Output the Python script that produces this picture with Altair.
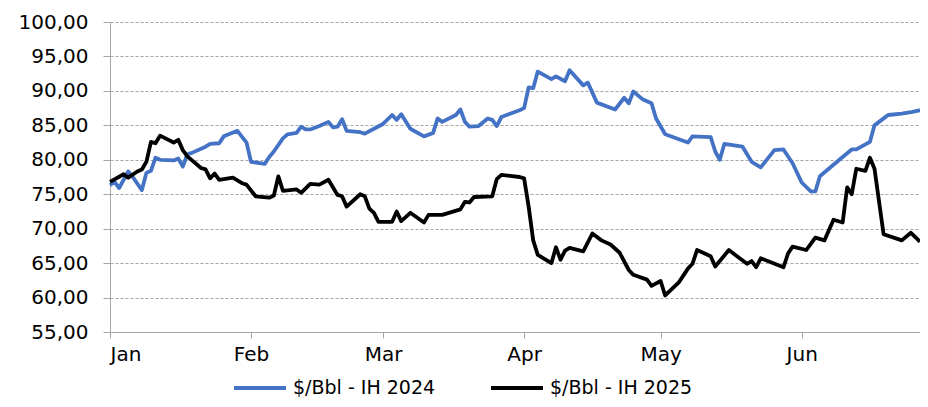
import altair as alt
import pandas as pd

# Day offsets from 1 January (shared Jan–Jun axis), values in $/Bbl
series_names = ["$/Bbl - IH 2024", "$/Bbl - IH 2025"]
series_colors = ["#4472C4", "#000000"]

days_2024 = [0, 1, 2, 4, 5, 7, 8, 9, 10, 11, 14, 15, 16, 17, 18, 21, 22, 24, 25, 28,
             30, 31, 34, 35, 36, 38, 39, 41, 42, 43, 44, 46, 48, 49, 50, 51, 52, 55, 56, 58,
             60, 62, 63, 64, 66, 69, 71, 72, 73, 76, 77, 78, 79, 81, 83, 84, 85, 86, 90, 91,
             92, 93, 94, 97, 98, 100, 101, 104, 105, 107, 111, 113, 114, 115, 117, 119, 120, 122, 127, 128,
             132, 133, 134, 135, 139, 141, 143, 146, 148, 150, 152, 154, 155, 156, 161, 163, 164, 167, 168, 169,
             171, 174, 176, 178]
price_2024 = [76.3, 76.8, 75.9, 78.3, 77.5, 75.6, 78.1, 78.4, 80.3, 80.0, 79.9, 80.2, 79.0, 80.8, 81.0, 81.9, 82.3, 82.4, 83.4, 84.2,
              82.5, 79.7, 79.4, 80.4, 81.2, 83.1, 83.7, 83.9, 84.8, 84.4, 84.4, 84.9, 85.5, 84.7, 84.8, 85.9, 84.2, 84.0, 83.8, 84.5,
              85.2, 86.5, 85.8, 86.6, 84.5, 83.4, 83.9, 86.0, 85.5, 86.5, 87.3, 85.5, 84.8, 84.9, 86.0, 85.8, 84.9, 86.2, 87.2, 87.5,
              90.5, 90.4, 92.8, 91.7, 92.1, 91.4, 93.0, 90.8, 91.2, 88.3, 87.3, 89.0, 88.2, 89.9, 88.8, 88.2, 86.0, 83.7, 82.5, 83.4,
              83.3, 81.2, 80.0, 82.3, 81.9, 79.7, 78.9, 81.4, 81.5, 79.5, 76.7, 75.4, 75.4, 77.6, 80.4, 81.5, 81.5, 82.6, 85.0, 85.5,
              86.5, 86.7, 86.9, 87.2]

days_2025 = [0, 3, 4, 6, 7, 8, 9, 10, 11, 14, 15, 16, 17, 20, 21, 22, 23, 24, 27, 29,
             30, 32, 35, 36, 37, 38, 41, 42, 44, 46, 48, 50, 51, 52, 55, 56, 57, 58, 59, 62,
             63, 64, 66, 69, 70, 73, 77, 78, 79, 80, 84, 85, 86, 90, 91, 92, 93, 94, 97, 98,
             99, 100, 101, 104, 106, 108, 110, 112, 114, 115, 118, 119, 121, 122, 125, 127, 128, 129, 132, 133,
             136, 138, 140, 141, 142, 143, 148, 149, 150, 153, 155, 157, 159, 161, 162, 163, 164, 166, 167, 168,
             170, 174, 176, 178]
price_2025 = [76.8, 77.9, 77.4, 78.3, 78.6, 79.7, 82.6, 82.4, 83.5, 82.5, 82.9, 81.4, 80.5, 78.8, 78.6, 77.3, 78.0, 77.1, 77.4, 76.6,
              76.4, 74.7, 74.5, 74.8, 77.6, 75.5, 75.7, 75.2, 76.5, 76.4, 77.1, 74.9, 74.7, 73.2, 75.0, 74.7, 72.9, 72.3, 71.0, 71.0,
              72.5, 71.1, 72.3, 70.9, 72.0, 72.0, 72.8, 73.9, 73.8, 74.6, 74.7, 77.2, 77.8, 77.5, 77.3, 73.2, 68.3, 66.2, 65.0, 67.3,
              65.5, 66.8, 67.2, 66.7, 69.3, 68.3, 67.7, 66.5, 64.0, 63.3, 62.6, 61.7, 62.4, 60.3, 62.2, 64.2, 64.9, 66.9, 66.0, 64.5,
              66.9, 65.9, 64.9, 65.3, 64.4, 65.7, 64.4, 66.4, 67.4, 66.9, 68.7, 68.3, 71.3, 70.9, 76.0, 75.0, 78.7, 78.4, 80.3, 78.7,
              69.2, 68.3, 69.4, 68.1]

y_ticks = [55, 60, 65, 70, 75, 80, 85, 90, 95, 100]
month_ticks = [1, 2, 3, 4, 5, 6]

start = pd.Timestamp("2024-01-01")
rows = []
for name, days, vals in [(series_names[0], days_2024, price_2024),
                         (series_names[1], days_2025, price_2025)]:
    for d, v in zip(days, vals):
        rows.append({"date": (start + pd.Timedelta(days=d)).strftime("%Y-%m-%d"),
                     "price": v, "series": name})
df = pd.DataFrame(rows)

FONT = "DejaVu Sans"
AXIS_GRAY = "#a6a6a6"
FS = 20

chart = alt.Chart(df).mark_line(strokeWidth=3.8, strokeJoin="round").encode(
    x=alt.X("date:T",
            scale=alt.Scale(type="utc", nice=False,
                            domain=[alt.DateTime(year=2024, month=1, date=1, utc=True),
                                    alt.DateTime(year=2024, month=6, date=27, utc=True)]),
            axis=alt.Axis(values=[alt.DateTime(year=2024, month=m, date=1, utc=True) for m in month_ticks],
                          labelExpr="utcFormat(datum.value, '%b')", title=None, grid=False,
                          domainColor=AXIS_GRAY, tickColor=AXIS_GRAY, tickSize=6,
                          labelFont=FONT, labelFontSize=FS, labelColor="black", labelPadding=6)),
    y=alt.Y("price:Q",
            scale=alt.Scale(domain=[55, 100], nice=False, zero=False),
            axis=alt.Axis(values=y_ticks, title=None,
                          labelExpr="replace(format(datum.value, '.2f'), '.', ',')",
                          grid=True, gridDash=[3, 2], gridColor=AXIS_GRAY,
                          domainColor=AXIS_GRAY, tickColor=AXIS_GRAY, tickSize=7,
                          labelFont=FONT, labelFontSize=FS, labelColor="black", labelPadding=15)),
    color=alt.Color("series:N",
                    scale=alt.Scale(domain=series_names, range=series_colors),
                    legend=alt.Legend(title=None, orient="none", direction="horizontal",
                                      legendX=122, legendY=338,
                                      symbolType="stroke", symbolSize=2700, symbolStrokeWidth=4,
                                      labelFont=FONT, labelFontSize=19, labelColor="black",
                                      labelOffset=5, columnPadding=47)),
).properties(
    width=810, height=310,
    autosize=alt.AutoSizeParams(type="none"),
    padding={"left": 102, "top": 14, "right": 0, "bottom": 67},
).configure_view(stroke=None)

chart.save("out.html", embed_options={"renderer": "svg", "actions": False})
